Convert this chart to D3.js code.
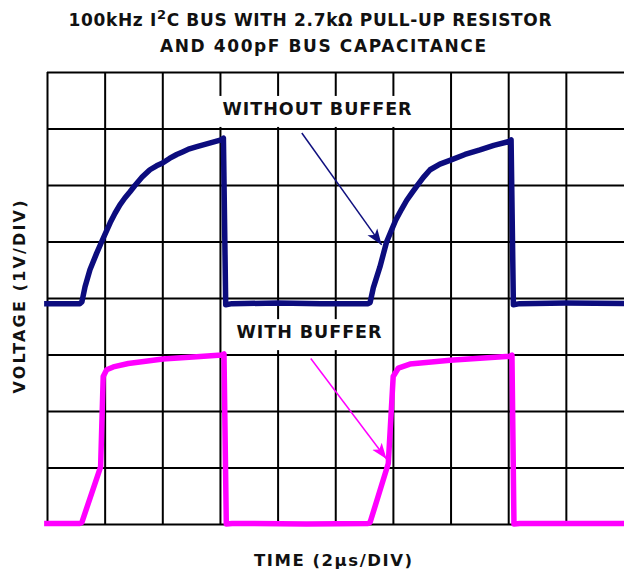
<!DOCTYPE html>
<html>
<head>
<meta charset="utf-8">
<script src="https://cdn.jsdelivr.net/npm/d3@7"></script>
<style>
body { margin: 0; background: #fff; }
svg { display: block; }
</style>
</head>
<body>
<svg id="chart" width="624" height="571"></svg>
<script>
// scope settings: 2us/div across 10 divs, 1V/div over 8 divs
const timeDivs = d3.range(0, 10);
const voltDivs = d3.range(0, 9);
const usPerDiv = 2;

// channel 1: without buffer (ground on 4th division)
const blueT = [-0.1, 1.14, 1.21, 1.32, 1.49, 1.72, 1.90, 2.05, 2.19, 2.36, 2.53, 2.70, 2.88, 3.05, 3.30, 3.57, 3.80, 4.01, 4.25, 4.50, 4.72, 4.94, 5.20, 5.48, 5.76, 6.04, 6.12, 6.20, 6.42, 8.0, 9.5, 11.14,
               11.21, 11.32, 11.55, 11.78, 11.95, 12.10, 12.30, 12.48, 12.66, 12.83, 13.05, 13.29, 13.63, 14.0, 14.5, 15.02, 15.5, 16.03, 16.10, 16.18, 16.4, 18.0, 20.2];
const blueV = [-0.1, -0.1, -0.07, 0.2, 0.5, 0.79, 1.0, 1.17, 1.33, 1.50, 1.65, 1.77, 1.88, 1.99, 2.14, 2.27, 2.34, 2.39, 2.47, 2.54, 2.59, 2.64, 2.68, 2.72, 2.76, 2.80, 2.83, -0.12, -0.1, -0.09, -0.1, -0.1,
               -0.08, 0.18, 0.55, 0.99, 1.20, 1.38, 1.57, 1.73, 1.86, 1.98, 2.13, 2.27, 2.37, 2.44, 2.54, 2.62, 2.70, 2.77, 2.80, -0.12, -0.1, -0.09, -0.1];

// channel 2: with buffer (ground on bottom division)
const pinkT = [-0.1, 1.14, 1.21, 1.86, 1.95, 2.07, 2.30, 2.82, 4.02, 5.19, 6.06, 6.14, 6.22, 6.42, 9.0, 11.14,
               11.21, 11.84, 12.01, 12.19, 12.59, 13.98, 16.06, 16.13, 16.20, 16.4, 20.2];
const pinkV = [0.01, 0.01, 0.03, 1.01, 2.61, 2.73, 2.78, 2.84, 2.92, 2.96, 2.99, 3.01, 0.0, 0.01, 0.0, 0.01,
               0.03, 1.07, 2.61, 2.76, 2.83, 2.90, 2.97, 2.99, 0.0, 0.01, 0.01];

const blueGround = 4;
const pinkGround = 0;

const titleLine1 = ["100kHz I", "2", "C BUS WITH 2.7k\u03a9 PULL-UP RESISTOR"];
const titleLine2 = "AND 400pF BUS CAPACITANCE";
const xLabel = "TIME (2\u03bcs/DIV)";
const yLabel = "VOLTAGE (1V/DIV)";

// annotations: label spot and arrow ends in (us, div)
const notes = [
  {text: "WITHOUT BUFFER", t: 9.37, d: 7.24, t0: 8.84, d0: 6.92, t1: 11.61, d1: 4.94, color: "#10107f", len: 189},
  {text: "WITH BUFFER", t: 9.09, d: 3.29, t0: 9.15, d0: 2.93, t1: 11.78, d1: 1.15, color: "#ff00ff", len: 145}
];

const svg = d3.select("#chart");
const font = "'DejaVu Sans', sans-serif";
const ink = "#111";

const x = d3.scaleLinear().domain([0, 10 * usPerDiv]).range([47, 623.5]);
const y = d3.scaleLinear().domain([0, 8]).range([524, 72]);

// grid via axes
svg.append("g")
    .attr("transform", "translate(0,524)")
    .call(d3.axisBottom(x).tickValues(timeDivs.map(d => d * usPerDiv)).tickSize(-452).tickFormat(""))
    .call(g => g.select(".domain").remove())
    .call(g => g.selectAll("line").attr("stroke", "#000").attr("stroke-width", 2));

svg.append("g")
    .attr("transform", "translate(47,0)")
    .call(d3.axisLeft(y).tickValues(voltDivs).tickSize(-577).tickFormat(""))
    .call(g => g.select(".domain").remove())
    .call(g => g.selectAll("line").attr("stroke", "#000").attr("stroke-width", 2));

// traces
const line = (ground) => d3.line()
    .x(d => x(d[0]))
    .y(d => y(d[1] + ground));

svg.append("path")
    .datum(d3.zip(blueT, blueV))
    .attr("d", line(blueGround))
    .attr("fill", "none")
    .attr("stroke", "#0c0c7e")
    .attr("stroke-width", 5.5)
    .attr("stroke-linejoin", "round");

svg.append("path")
    .datum(d3.zip(pinkT, pinkV))
    .attr("d", line(pinkGround))
    .attr("fill", "none")
    .attr("stroke", "#ff00ff")
    .attr("stroke-width", 5.5)
    .attr("stroke-linejoin", "round");

// annotation labels with white boxes and arrows
notes.forEach((n, i) => {
  svg.append("defs").append("marker")
      .attr("id", "head" + i)
      .attr("markerUnits", "userSpaceOnUse")
      .attr("viewBox", "-16 -7 17 14")
      .attr("markerWidth", 17)
      .attr("markerHeight", 14)
      .attr("refX", 0)
      .attr("refY", 0)
      .attr("orient", "auto")
    .append("path")
      .attr("d", "M0,0 L-16,-6 L-12,0 L-16,6 Z")
      .attr("fill", n.color);

  const cx = x(n.t), by = y(n.d);
  svg.append("rect")
      .attr("x", cx - n.len / 2 - 5)
      .attr("y", by - 19)
      .attr("width", n.len + 10)
      .attr("height", 31)
      .attr("fill", "#fff");
  svg.append("text")
      .attr("x", cx)
      .attr("y", by)
      .attr("text-anchor", "middle")
      .attr("textLength", n.len)
      .attr("lengthAdjust", "spacing")
      .style("font-family", font)
      .style("font-weight", "bold")
      .style("font-size", "17.5px")
      .style("fill", ink)
      .text(n.text);
  svg.append("line")
      .attr("x1", x(n.t0))
      .attr("y1", y(n.d0))
      .attr("x2", x(n.t1))
      .attr("y2", y(n.d1))
      .attr("stroke", n.color)
      .attr("stroke-width", 1.5)
      .attr("marker-end", "url(#head" + i + ")");
});

// titles
const t1 = svg.append("text")
    .attr("x", 310)
    .attr("y", 26)
    .attr("text-anchor", "middle")
    .attr("textLength", 483)
    .attr("lengthAdjust", "spacing")
    .style("font-family", font)
    .style("font-weight", "bold")
    .style("font-size", "17px")
    .style("fill", ink);
t1.append("tspan").text(titleLine1[0]);
t1.append("tspan").attr("dy", -7).style("font-size", "13px").text(titleLine1[1]);
t1.append("tspan").attr("dy", 7).text(titleLine1[2]);

svg.append("text")
    .attr("x", 323)
    .attr("y", 52)
    .attr("text-anchor", "middle")
    .attr("textLength", 326)
    .attr("lengthAdjust", "spacing")
    .style("font-family", font)
    .style("font-weight", "bold")
    .style("font-size", "17px")
    .style("fill", ink)
    .text(titleLine2);

svg.append("text")
    .attr("x", 333)
    .attr("y", 566)
    .attr("text-anchor", "middle")
    .attr("textLength", 158)
    .attr("lengthAdjust", "spacing")
    .style("font-family", font)
    .style("font-weight", "bold")
    .style("font-size", "16.5px")
    .style("fill", ink)
    .text(xLabel);

svg.append("text")
    .attr("transform", "translate(25,297) rotate(-90)")
    .attr("text-anchor", "middle")
    .attr("textLength", 193)
    .attr("lengthAdjust", "spacing")
    .style("font-family", font)
    .style("font-weight", "bold")
    .style("font-size", "16px")
    .style("fill", ink)
    .text(yLabel);
</script>
</body>
</html>
